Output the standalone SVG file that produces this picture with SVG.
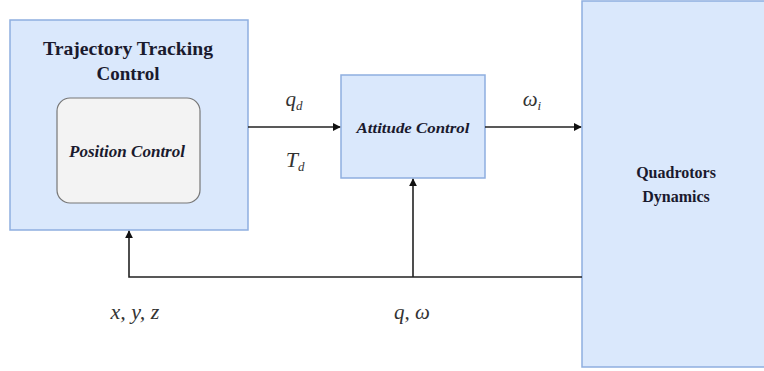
<svg xmlns="http://www.w3.org/2000/svg" width="764" height="371" viewBox="0 0 764 371">
<style>
.blk{fill:#dae8fc;stroke:#8eaee0;stroke-width:1.5}
.inner{fill:#f3f3f3;stroke:#777;stroke-width:1.2}
.t{font-family:"Liberation Serif","DejaVu Serif",serif;font-weight:bold;fill:#1a1a2e;text-anchor:middle}
.ti{font-family:"Liberation Serif","DejaVu Serif",serif;font-weight:bold;font-style:italic;fill:#1a1a2e;text-anchor:middle}
.m{font-family:"Liberation Serif","DejaVu Serif",serif;font-style:italic;fill:#333;text-anchor:middle}
.ln{stroke:#222;stroke-width:1.6;fill:none}
</style>
<defs>
<marker id="ah" viewBox="0 0 10 10" refX="9" refY="5" markerWidth="8" markerHeight="8" orient="auto" markerUnits="userSpaceOnUse">
<path d="M0,0 L10,5 L0,10 z" fill="#111"/>
</marker>
</defs>
<g id="traj">
<rect class="blk" x="10" y="20" width="238" height="210"/>
<text class="t" x="128" y="55" font-size="19" textLength="170" lengthAdjust="spacingAndGlyphs">Trajectory Tracking</text>
<text class="t" x="128" y="80" font-size="19">Control</text>
</g>
<g id="pos">
<rect class="inner" x="57" y="98" width="143" height="105" rx="13"/>
<text class="ti" x="127" y="157" font-size="16" textLength="116" lengthAdjust="spacingAndGlyphs">Position Control</text>
</g>
<g id="att">
<rect class="blk" x="341" y="75" width="144" height="103"/>
<text class="ti" x="413" y="133" font-size="15" textLength="113" lengthAdjust="spacingAndGlyphs">Attitude Control</text>
</g>
<g id="quad">
<rect class="blk" x="582" y="1" width="190" height="366"/>
<text class="t" x="676" y="178" font-size="16">Quadrotors</text>
<text class="t" x="676" y="202" font-size="16">Dynamics</text>
</g>
<g id="connectors">
<line class="ln" x1="248" y1="127" x2="340" y2="127" marker-end="url(#ah)"/>
<line class="ln" x1="485" y1="127" x2="581" y2="127" marker-end="url(#ah)"/>
<polyline class="ln" points="582,277 129,277 129,231" marker-end="url(#ah)"/>
<line class="ln" x1="413" y1="277" x2="413" y2="179" marker-end="url(#ah)"/>
</g>
<g id="labels">
<text class="m" x="294" y="106" font-size="21">q<tspan font-size="13" dy="4">d</tspan></text>
<text class="m" x="295" y="167" font-size="22">T<tspan font-size="13" dy="4">d</tspan></text>
<text class="m" x="532" y="106" font-size="21">ω<tspan font-size="13" dy="4">i</tspan></text>
<text class="m" x="135" y="319" font-size="22">x, y, z</text>
<text class="m" x="412" y="319" font-size="21">q, ω</text>
</g>
</svg>
